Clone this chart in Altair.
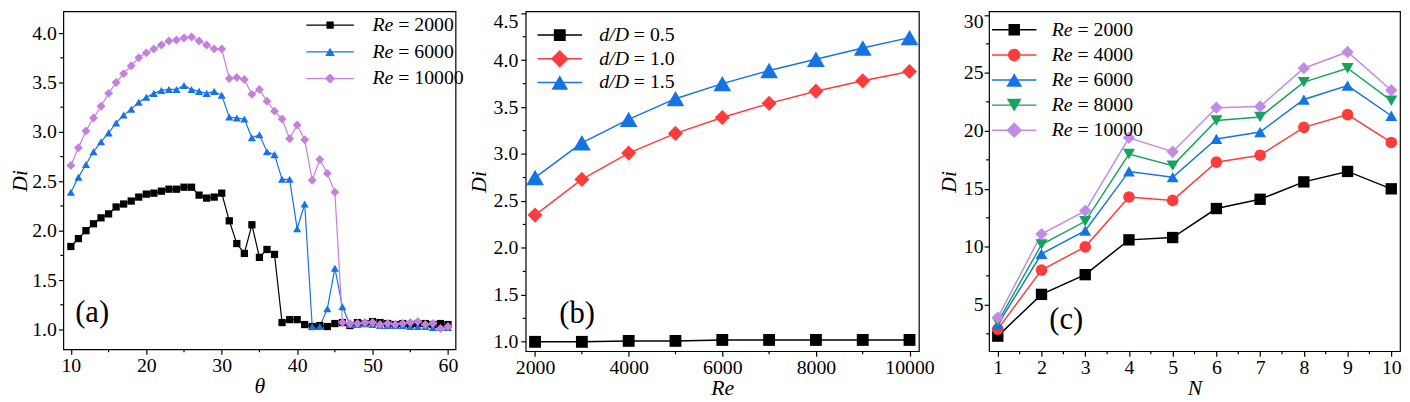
import altair as alt
import pandas as pd

FONT = "Liberation Serif, Times New Roman, serif"

# ---------------- panel (a) data ----------------
theta = list(range(10, 61))
a_names = ["Re = 2000", "Re = 6000", "Re = 10000"]
a_re2000 = [1.84, 1.92, 2.00, 2.07, 2.13, 2.17, 2.24, 2.27, 2.30, 2.34,
            2.37, 2.38, 2.40, 2.42, 2.42, 2.44, 2.44, 2.36, 2.33, 2.34,
            2.38, 2.10, 1.87, 1.77, 2.06, 1.73, 1.81, 1.76, 1.07, 1.10,
            1.10, 1.05, 1.03, 1.04, 1.03, 1.06, 1.07, 1.04, 1.07, 1.06,
            1.08, 1.07, 1.06, 1.05, 1.06, 1.05, 1.06, 1.06, 1.05, 1.06, 1.05]
a_re6000 = [2.39, 2.54, 2.67, 2.80, 2.90, 2.99, 3.09, 3.17, 3.23, 3.30,
            3.35, 3.39, 3.42, 3.43, 3.43, 3.47, 3.43, 3.41, 3.39, 3.41,
            3.37, 3.15, 3.14, 3.13, 2.94, 2.97, 2.80, 2.77, 2.52, 2.52,
            2.02, 2.27, 1.03, 1.03, 1.21, 1.62, 1.23, 1.05, 1.05, 1.06,
            1.05, 1.04, 1.04, 1.04, 1.04, 1.03, 1.03, 1.03, 1.02, 1.02, 1.02]
a_re10000 = [2.66, 2.84, 3.01, 3.14, 3.26, 3.39, 3.50, 3.59, 3.67, 3.75,
             3.80, 3.84, 3.88, 3.92, 3.93, 3.95, 3.96, 3.92, 3.88, 3.84,
             3.84, 3.54, 3.55, 3.53, 3.38, 3.43, 3.31, 3.21, 3.13, 2.93,
             3.07, 2.92, 2.51, 2.72, 2.58, 2.39, 1.07, 1.06, 1.06, 1.07,
             1.07, 1.05, 1.06, 1.05, 1.06, 1.07, 1.08, 1.05, 1.06, 1.01, 1.03]
a_xticks = [10, 20, 30, 40, 50, 60]
a_xminor = [15, 25, 35, 45, 55]
a_yticks = [1.0, 1.5, 2.0, 2.5, 3.0, 3.5, 4.0]
a_yminor = [1.25, 1.75, 2.25, 2.75, 3.25, 3.75]

# ---------------- panel (b) data ----------------
b_re = [2000, 3000, 4000, 5000, 6000, 7000, 8000, 9000, 10000]
b_names = ["d/D = 0.5", "d/D = 1.0", "d/D = 1.5"]
b_d05 = [1.00, 1.00, 1.01, 1.01, 1.02, 1.02, 1.02, 1.02, 1.02]
b_d10 = [2.35, 2.73, 3.01, 3.22, 3.39, 3.54, 3.67, 3.78, 3.88]
b_d15 = [2.75, 3.12, 3.37, 3.59, 3.75, 3.89, 4.01, 4.13, 4.24]
b_xticks = [2000, 4000, 6000, 8000, 10000]
b_xminor = [3000, 5000, 7000, 9000]
b_yticks = [1.0, 1.5, 2.0, 2.5, 3.0, 3.5, 4.0, 4.5]
b_yminor = [1.25, 1.75, 2.25, 2.75, 3.25, 3.75, 4.25]

# ---------------- panel (c) data ----------------
c_n = [1, 2, 3, 4, 5, 6, 7, 8, 9, 10]
c_names = ["Re = 2000", "Re = 4000", "Re = 6000", "Re = 8000", "Re = 10000"]
c_re2000 = [2.3, 5.9, 7.6, 10.6, 10.8, 13.3, 14.1, 15.6, 16.5, 15.0]
c_re4000 = [2.9, 8.0, 10.0, 14.3, 14.0, 17.3, 17.9, 20.3, 21.4, 19.0]
c_re6000 = [3.3, 9.4, 11.4, 16.5, 16.0, 19.3, 19.9, 22.7, 23.9, 21.3]
c_re8000 = [3.5, 10.2, 12.2, 18.0, 17.0, 20.9, 21.2, 24.2, 25.4, 22.6]
c_re10000 = [3.9, 11.1, 13.1, 19.4, 18.2, 22.0, 22.1, 25.4, 26.8, 23.5]
c_xticks = [1, 2, 3, 4, 5, 6, 7, 8, 9, 10]
c_xminor = [1.5, 2.5, 3.5, 4.5, 5.5, 6.5, 7.5, 8.5, 9.5]
c_yticks = [5, 10, 15, 20, 25, 30]
c_yminor = [2.5, 7.5, 12.5, 17.5, 22.5, 27.5]


# ---------------- legend symbol paths (line + marker) ----------------
def line_rect(L, t):
    return f"M{-L},{-t}L{L},{-t}L{L},{t}L{-L},{t}Z"


def p_square(s):
    return f"M{-s},{-s}L{s},{-s}L{s},{s}L{-s},{s}Z"


def p_tri_up(r):
    h = round(0.866 * r, 2)
    return f"M0,{-h}L{r},{h}L{-r},{h}Z"


def p_tri_down(r):
    h = round(0.866 * r, 2)
    return f"M0,{h}L{-r},{-h}L{r},{-h}Z"


def p_diamond(r):
    return f"M0,{-r}L{r},0L0,{r}L{-r},0Z"


def p_circle(r):
    return f"M{-r},0A{r},{r} 0 1,1 {r},0A{r},{r} 0 1,1 {-r},0Z"


AX = dict(labelFont=FONT, labelFontSize=20, labelColor="black",
          titleFont=FONT, titleFontSize=22, titleFontStyle="italic",
          titleFontWeight="normal", titleColor="black",
          tickColor="black", tickSize=5, tickWidth=1.2,
          domain=False, grid=False, labelOverlap=False)


def panel(xs, series, names, colors, shapes, sizes, leg_shapes, lw, L,
          xdom, ydom, xticks, xminor, yticks, yminor, xfmt, yfmt, xtitle,
          w, h, tag, tag_x, tag_y, leg_x, leg_y, row_pad, prefix, prefix_dx,
          ylab_pad, ytitle_pad, label_gap, flush_off):
    rows = [{"x": x, "y": y, "s": n}
            for n, ys in zip(names, series) for x, y in zip(xs, ys)]
    df = pd.DataFrame(rows)
    xsc = alt.Scale(domain=xdom, nice=False, zero=False)
    ysc = alt.Scale(domain=ydom, nice=False, zero=False)
    csc = alt.Scale(domain=names, range=colors)
    xaxis = alt.Axis(values=xticks, format=xfmt, title=xtitle,
                     labelPadding=2, titlePadding=0, **AX)
    yaxis = alt.Axis(values=yticks, format=yfmt, title="Di",
                     labelPadding=ylab_pad, titlePadding=ytitle_pad,
                     labelFlush=5, labelFlushOffset=flush_off, **AX)
    X = alt.X("x:Q", scale=xsc, axis=xaxis)
    Y = alt.Y("y:Q", scale=ysc, axis=yaxis)

    so = L - 10
    lo = 2 * L + label_gap - 20
    leg_common = dict(orient="none", legendY=leg_y, title=None, padding=0,
                      labelFont=FONT, labelFontSize=20, labelColor="black",
                      symbolSize=4, symbolOffset=so, labelOffset=lo,
                      rowPadding=row_pad, symbolStrokeWidth=0, labelLimit=300)
    paths = [line_rect(L, lw / 2) + p for p in leg_shapes]
    leg1 = alt.Legend(legendX=leg_x, labelExpr=f"'{prefix}'",
                      labelFontStyle="italic", symbolOpacity=1, **leg_common)
    leg2 = alt.Legend(legendX=leg_x + prefix_dx,
                      labelExpr=f"substring(datum.label, {len(prefix) + 1})",
                      labelFontStyle="normal", symbolOpacity=0,
                      symbolType="circle", **leg_common)

    lines = alt.Chart(df).mark_line(strokeWidth=lw).encode(
        x=X, y=Y, color=alt.Color("s:N", scale=csc, legend=leg2))
    pts = alt.Chart(df).mark_point(filled=True, opacity=1, strokeWidth=0).encode(
        x=X, y=Y,
        color=alt.Color("s:N", scale=csc, legend=None),
        shape=alt.Shape("s:N", scale=alt.Scale(domain=names, range=shapes), legend=None),
        size=alt.Size("s:N", scale=alt.Scale(domain=names, range=sizes), legend=None))
    # legend-only layer (no rows drawn): line + marker symbols
    legl = alt.Chart(df).transform_filter("false").mark_point(
        filled=True, opacity=1, strokeWidth=0).encode(
        color=alt.Color("s:N", scale=csc, legend=leg1),
        shape=alt.Shape("s:N", scale=alt.Scale(domain=names, range=paths), legend=leg1))
    # minor ticks
    xm = alt.Chart(pd.DataFrame({"v": xminor})).mark_rule(
        color="black", strokeWidth=1.2).encode(
        x=alt.X("v:Q", scale=xsc, axis=xaxis), y=alt.value(h), y2=alt.value(h + 3))
    ym = alt.Chart(pd.DataFrame({"v": yminor})).mark_rule(
        color="black", strokeWidth=1.2).encode(
        y=alt.Y("v:Q", scale=ysc, axis=yaxis), x=alt.value(0), x2=alt.value(-3))
    tagc = alt.Chart(pd.DataFrame({"t": [tag]})).mark_text(
        font=FONT, fontSize=31, align="left", baseline="alphabetic",
        color="black").encode(text="t:N", x=alt.value(tag_x), y=alt.value(tag_y))
    return alt.layer(lines, pts, legl, xm, ym, tagc).resolve_scale(
        shape="independent").resolve_legend(
        color="independent", shape="independent").properties(width=w, height=h)


BLACK, BLUE, PURPLE, RED, GREEN, LILAC = (
    "#000000", "#1673E6", "#C47FDF", "#FF3C3C", "#16A35D", "#C48BE6")

HA, HB, HC = 342, 344, 344

pa = panel(theta, [a_re2000, a_re6000, a_re10000], a_names,
           [BLACK, BLUE, PURPLE], ["square", "triangle-up", "diamond"],
           [54, 81, 100],
           [p_square(3.7), p_tri_up(4.8), p_diamond(5.2)], 1.2, 24,
           [9, 61], [0.8, 4.22], a_xticks, a_xminor, a_yticks, a_yminor,
           "d", ".1f", "θ", 397, HA, "(a)", 12, HA - 28,
           246, 4, 7, "Re", 26, 2, 0, 5, 0)

pb = panel(b_re, [b_d05, b_d10, b_d15], b_names,
           [BLACK, RED, BLUE], ["square", "diamond", "triangle-up"],
           [144, 324, 289],
           [p_square(6), p_diamond(9), p_tri_up(8.5)], 1.5, 22.5,
           [1800, 10200], [0.9, 4.52], b_xticks, b_xminor, b_yticks, b_yminor,
           "d", ".1f", "Re", 398, HB, "(b)", 34, HB - 29,
           12, 14, 4, "d/D", 35, 3, 3, 5, 2)

pc = panel(c_n, [c_re2000, c_re4000, c_re6000, c_re8000, c_re10000], c_names,
           [BLACK, RED, BLUE, GREEN, LILAC],
           ["square", "circle", "triangle-up", "triangle-down", "diamond"],
           [132, 156, 256, 225, 256],
           [p_square(5.8), p_circle(6.3), p_tri_up(8), p_tri_down(7.5), p_diamond(8)],
           1.5, 22.5,
           [0.8, 10.2], [1, 30.3], c_xticks, c_xminor, c_yticks, c_yminor,
           "d", "d", "N", 416, HC, "(c)", 61, HC - 22,
           3, 8.7, 5.4, "Re", 26, 1, 3, 3, 3.5)

chart = alt.hconcat(pa, pb, pc, spacing=1).resolve_scale(
    x="independent", y="independent", color="independent",
    shape="independent", size="independent"
).configure_view(stroke="black", strokeWidth=1.2).properties(
    padding=0, background="white")

chart.save("out.html", embed_options={"renderer": "svg", "actions": False})
